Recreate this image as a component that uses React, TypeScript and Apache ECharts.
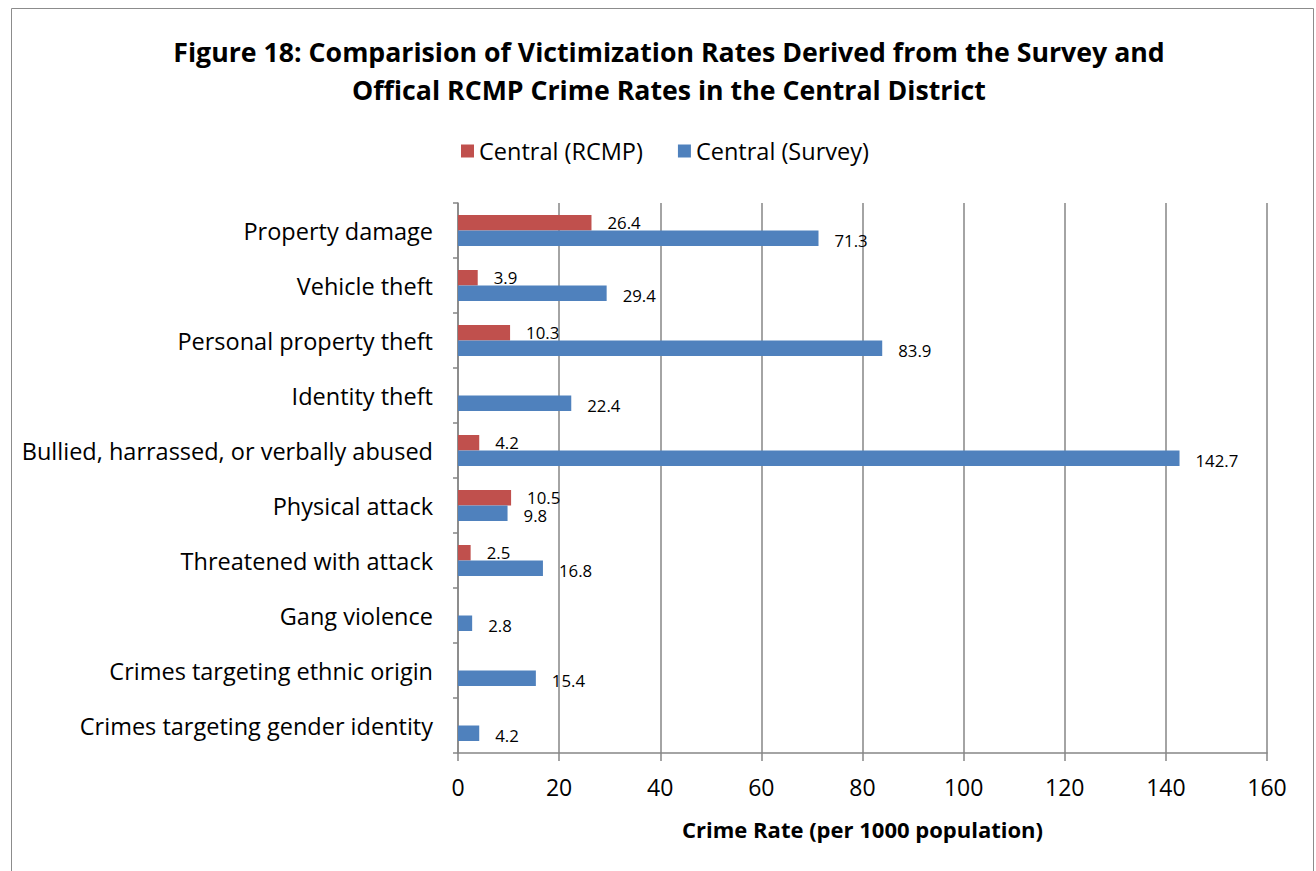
import React, { useEffect, useRef } from "react";
import * as echarts from "echarts";

const categories = [
  "Property damage",
  "Vehicle theft",
  "Personal property theft",
  "Identity theft",
  "Bullied, harrassed, or verbally abused",
  "Physical attack",
  "Threatened with attack",
  "Gang violence",
  "Crimes targeting ethnic origin",
  "Crimes targeting gender identity",
];
const rcmpValues: (number | null)[] = [26.4, 3.9, 10.3, null, 4.2, 10.5, 2.5, null, null, null];
const surveyValues: (number | null)[] = [71.3, 29.4, 83.9, 22.4, 142.7, 9.8, 16.8, 2.8, 15.4, 4.2];
const seriesNames = ["Central (RCMP)", "Central (Survey)"];
const titleLines = [
  "Figure 18: Comparision of Victimization Rates Derived from the Survey and",
  "Offical RCMP Crime Rates in the Central District",
];
const xAxisName = "Crime Rate (per 1000 population)";

const FONT = "'Open Sans', Lato, sans-serif";

export default function App() {
  const ref = useRef<HTMLDivElement>(null);
  useEffect(() => {
    if (!ref.current) return;
    const chart = echarts.init(ref.current, undefined, { renderer: "svg" });
    const labelCfg = {
      show: true,
      position: "right" as const,
      distance: 16,
      fontFamily: FONT,
      fontSize: 16.8,
      lineHeight: 15,
      color: "#000",
    };
    chart.setOption({
      animation: false,
      backgroundColor: "#fff",
      textStyle: { fontFamily: FONT },
      graphic: [
        {
          type: "rect",
          shape: { x: 11.5, y: 8.5, width: 1302, height: 900 },
          style: { fill: "none", stroke: "#8c8c8c", lineWidth: 1 },
          silent: true,
        },
      ],
      title: {
        text: titleLines.join("\n"),
        left: 664,
        textAlign: "center",
        top: 27,
        textStyle: {
          fontFamily: FONT,
          fontWeight: "bold",
          fontSize: 26.7,
          lineHeight: 38,
          color: "#000",
        },
      },
      legend: {
        top: 134,
        left: 456,
        itemWidth: 13,
        itemHeight: 13,
        itemGap: 35,
        icon: "rect",
        textStyle: { fontFamily: FONT, fontSize: 23.5, color: "#000" },
        data: seriesNames,
      },
      grid: { left: 458, right: 49, top: 203, bottom: 118, containLabel: false },
      xAxis: {
        type: "value",
        min: 0,
        max: 160,
        interval: 20,
        name: xAxisName,
        nameLocation: "middle",
        nameGap: 65,
        nameTextStyle: { fontFamily: FONT, fontWeight: "bold", fontSize: 22, color: "#000" },
        axisLine: { show: true, lineStyle: { color: "#868686", width: 1.5 } },
        axisTick: { show: true, length: 8, lineStyle: { color: "#868686", width: 1.5 } },
        axisLabel: { margin: 22, fontFamily: FONT, fontSize: 23, color: "#000" },
        splitLine: { show: true, lineStyle: { color: "#868686", width: 1.5 } },
      },
      yAxis: {
        type: "category",
        inverse: true,
        data: categories,
        axisLine: { show: true, lineStyle: { color: "#868686", width: 1.5 } },
        axisTick: { show: true, length: 5, lineStyle: { color: "#868686", width: 1.5 } },
        axisLabel: { margin: 25, fontFamily: FONT, fontSize: 23.5, color: "#000" },
      },
      series: [
        {
          name: seriesNames[0],
          type: "bar",
          data: rcmpValues,
          barWidth: 15.5,
          barGap: "0%",
          itemStyle: { color: "#C0504D" },
          label: { ...labelCfg, offset: [0, 0] },
        },
        {
          name: seriesNames[1],
          type: "bar",
          data: surveyValues,
          barWidth: 15.5,
          barGap: "0%",
          itemStyle: { color: "#4F81BD" },
          label: { ...labelCfg, offset: [0, 2.5] },
        },
      ],
    });
    return () => chart.dispose();
  }, []);
  return (
    <div
      ref={ref}
      style={{ position: "fixed", left: 0, top: 0, width: 1316, height: 871 }}
    />
  );
}
